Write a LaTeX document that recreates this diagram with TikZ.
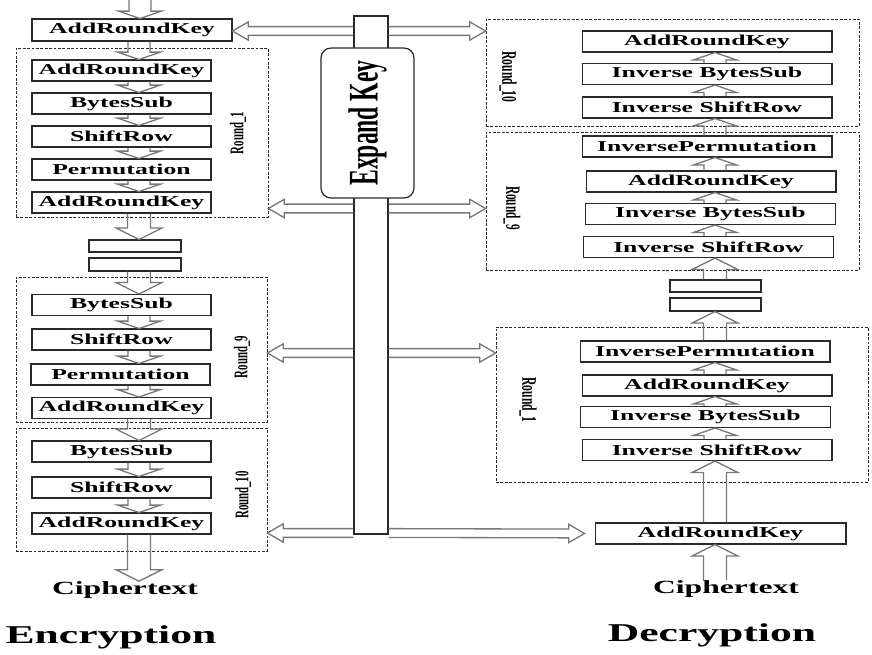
\documentclass[tikz,border=0pt]{standalone}
\usepackage{fontspec}
\setmainfont{Liberation Serif}
\newfontfamily\widefont[FakeStretch=1.7]{Liberation Serif}
\newfontfamily\narrowfont[FakeStretch=0.56]{Liberation Serif}
\usetikzlibrary{calc}

\definecolor{arrowgray}{HTML}{777777}
\definecolor{boxline}{HTML}{2A2A2A}

\tikzset{
	blk shaft/.store in=\blkshaft, blk head/.store in=\blkhead, blk len/.store in=\blklen,
	hollow/.style={draw=arrowgray, line width=0.75pt, blk shaft=6.3pt, blk head=12.2pt, blk len=4.2pt},
	tall/.style={blk shaft=6.5pt, blk head=13pt, blk len=6.5pt},
	side/.style={blk shaft=2.5pt, blk head=5.2pt, blk len=9pt},
	stage/.style={draw=boxline, line width=0.6pt, fill=white, minimum width=3.58cm, minimum height=0.42cm, inner sep=0pt, font=\widefont\bfseries\fontsize{8.6pt}{10pt}\selectfont},
	invstage/.style={stage, minimum width=5cm},
	spacer/.style={draw=boxline, line width=0.6pt, fill=white, minimum width=1.84cm, inner sep=0pt},
	roundbox/.style={draw=boxline, line width=0.5pt, dash pattern=on 1.6pt off 0.9pt, inner sep=0pt},
	roundlabel/.style={font=\narrowfont\bfseries\fontsize{11pt}{13pt}\selectfont, inner sep=0pt},
	bus/.style={draw=boxline, line width=0.8pt, minimum width=0.68cm, minimum height=10.36cm, inner sep=0pt},
	keybox/.style={draw=boxline, line width=0.7pt, fill=white, rounded corners=0.2cm, minimum width=3cm, minimum height=1.86cm, inner sep=0pt, font=\narrowfont\bfseries\fontsize{24pt}{28pt}\selectfont},
	cipher/.style={inner sep=0pt, font=\widefont\bfseries\fontsize{10.6pt}{12pt}\selectfont},
	caption/.style={inner sep=0pt, font=\widefont\bfseries\fontsize{14.6pt}{17pt}\selectfont}
}

% hollow block arrow from #2 to #3
\def\blockarrow[#1]#2#3{%
	\draw[hollow,#1] let \p1=(#2), \p2=(#3), \n1={atan2(\y2-\y1,\x2-\x1)}, \n2={veclen(\x2-\x1,\y2-\y1)} in
		[shift={(\p1)}, rotate=\n1]
		(0pt,-\blkshaft) -- ({\n2-\blklen},-\blkshaft) -- ({\n2-\blklen},-\blkhead) -- (\n2,0pt)
		-- ({\n2-\blklen},\blkhead) -- ({\n2-\blklen},\blkshaft) -- (0pt,\blkshaft);}

\begin{document}
\begin{tikzpicture}[x=0.02cm, y=-0.02cm]
	%%%%% START %%%%%
	\useasboundingbox (0,0) rectangle (872,654);
	
	% key bus
	\node[bus] (keybus) at (371,275) {};
	\node[keybox, rotate=90] (expand) at (367.5,123) {Expand Key};
	\coordinate (tap1) at (371,31);
	\coordinate (tap2) at (371,208.5);
	\coordinate (tap3) at (371,353);
	\coordinate (tap4) at (371,533);
	
	% encryption
	\coordinate (encin) at (140,0);
	\coordinate (encaxis) at (139,0);
	\node[stage, minimum width=4cm, minimum height=0.44cm] (ark0) at (132,30) {AddRoundKey};
	
	\node[roundbox, minimum width=5.04cm, minimum height=3.38cm] (r1e) at (142,132.5) {};
	\node[stage] (e1a) at (121.5,70.5) {AddRoundKey};
	\node[stage] (e1b) at (121.5,103.5) {BytesSub};
	\node[stage] (e1c) at (121.5,136.5) {ShiftRow};
	\node[stage] (e1d) at (121.5,169.5) {Permutation};
	\node[stage] (e1e) at (121.5,202.5) {AddRoundKey};
	\node[roundlabel, rotate=90] (l1e) at (238,133) {Round\_1};
	
	\node[spacer, minimum height=0.24cm] (g1) at (135,246) {};
	\node[spacer, minimum height=0.26cm] (g2) at (135,264.5) {};
	
	\node[roundbox, minimum width=5.02cm, minimum height=2.9cm] (r9e) at (141.5,349.5) {};
	\node[stage] (e9a) at (121.5,305) {BytesSub};
	\node[stage] (e9b) at (121.5,339.5) {ShiftRow};
	\node[stage] (e9c) at (120.5,374.5) {Permutation};
	\node[stage] (e9d) at (121.5,408) {AddRoundKey};
	\node[roundlabel, rotate=90] (l9e) at (242,357) {Round\_9};
	
	\node[roundbox, minimum width=5.02cm, minimum height=2.46cm] (r10e) at (141.5,489.5) {};
	\node[stage] (e10a) at (121.5,451.5) {BytesSub};
	\node[stage] (e10b) at (121.5,487.5) {ShiftRow};
	\node[stage] (e10c) at (121.5,523.5) {AddRoundKey};
	\node[roundlabel, rotate=90] (l10e) at (243,495) {Round\_10};
	
	\node[cipher] (ctext) at (125,590) {Ciphertext};
	\node[caption] (enc) at (111,637) {Encryption};
	
	% decryption
	\coordinate (decaxis) at (715,0);
	\node[roundbox, minimum width=7.46cm, minimum height=2.14cm] (r10d) at (672.5,72.5) {};
	\node[invstage] (d10a) at (707,41.5) {AddRoundKey};
	\node[invstage] (d10b) at (707,74) {Inverse BytesSub};
	\node[invstage] (d10c) at (707,107.5) {Inverse ShiftRow};
	\node[roundlabel, font=\narrowfont\bfseries\fontsize{11.8pt}{14pt}\selectfont, rotate=-90] (l10d) at (508,77) {Round\_10};
	
	\node[roundbox, minimum width=7.46cm, minimum height=2.76cm] (r9d) at (672.5,201) {};
	\node[invstage] (d9a) at (707,146.5) {InversePermutation};
	\node[invstage] (d9b) at (711,181.5) {AddRoundKey};
	\node[invstage] (d9c) at (710.5,214) {Inverse BytesSub};
	\node[invstage] (d9d) at (708.5,247) {Inverse ShiftRow};
	\node[roundlabel, font=\narrowfont\bfseries\fontsize{11.5pt}{14pt}\selectfont, rotate=-90] (l9d) at (512,208) {Round\_9};
	
	\node[spacer, minimum width=1.82cm, minimum height=0.24cm] (h1) at (715.5,286) {};
	\node[spacer, minimum width=1.82cm, minimum height=0.26cm] (h2) at (715.5,304.5) {};
	
	\node[roundbox, minimum width=7.44cm, minimum height=3.1cm] (r1d) at (682,404.5) {};
	\node[invstage] (d1a) at (705,351.5) {InversePermutation};
	\node[invstage] (d1b) at (707,385.5) {AddRoundKey};
	\node[invstage] (d1c) at (705.5,417) {Inverse BytesSub};
	\node[invstage] (d1d) at (707,450) {Inverse ShiftRow};
	\node[roundlabel, font=\narrowfont\bfseries\fontsize{11.8pt}{14pt}\selectfont, rotate=-90] (l1d) at (528,400) {Round\_1};
	
	\node[invstage, minimum width=5.02cm] (dark) at (720.5,533.5) {AddRoundKey};
	\node[cipher] (ctextd) at (726,589) {Ciphertext};
	\node[caption] (dec) at (712,635) {Decryption};
	
	% data path, encryption
	\blockarrow[]{encin}{ark0.north -| encin}
	\blockarrow[]{ark0.south -| encaxis}{e1a.north -| encaxis}
	\foreach \a/\b in {e1a/e1b, e1b/e1c, e1c/e1d, e1d/e1e, e9a/e9b, e9b/e9c, e9c/e9d, e10a/e10b, e10b/e10c}
		\blockarrow[]{\a.south -| encaxis}{\b.north -| encaxis};
	\blockarrow[tall]{e1e.south -| encaxis}{g1.north -| encaxis}
	\blockarrow[tall]{g2.south -| encaxis}{e9a.north -| encaxis}
	\blockarrow[tall]{e9d.south -| encaxis}{e10a.north -| encaxis}
	\blockarrow[tall]{e10c.south -| encaxis}{ctext.north -| encaxis}
	
	% data path, decryption
	\blockarrow[tall]{ctextd.north -| decaxis}{dark.south -| decaxis}
	\blockarrow[tall]{dark.north -| decaxis}{d1d.south -| decaxis}
	\foreach \a/\b in {d1d/d1c, d1c/d1b, d1b/d1a, d9d/d9c, d9c/d9b, d9b/d9a, d9a/d10c, d10c/d10b, d10b/d10a}
		\blockarrow[]{\a.north -| decaxis}{\b.south -| decaxis};
	\blockarrow[tall]{d1a.north -| decaxis}{h2.south -| decaxis}
	\blockarrow[tall]{h1.north -| decaxis}{d9d.south -| decaxis}
	
	% round keys
	\blockarrow[side]{keybus.west |- tap1}{ark0.east |- tap1}
	\blockarrow[side]{keybus.west |- tap2}{r1e.east |- tap2}
	\blockarrow[side]{keybus.west |- tap3}{r9e.east |- tap3}
	\blockarrow[side]{keybus.west |- tap4}{r10e.east |- tap4}
	\blockarrow[side]{keybus.east |- tap1}{r10d.west |- tap1}
	\blockarrow[side]{keybus.east |- tap2}{r9d.west |- tap2}
	\blockarrow[side]{keybus.east |- tap3}{r1d.west |- tap3}
	\blockarrow[side]{keybus.east |- tap4}{$(dark.west)+(-10,0)$}
	
	%%%%% END %%%%%
\end{tikzpicture}
\end{document}
